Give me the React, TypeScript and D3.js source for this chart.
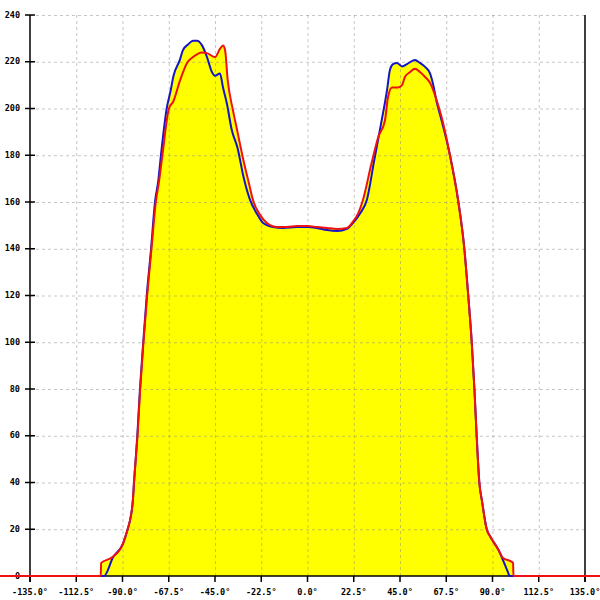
import * as d3 from "d3";

// [angle in degrees, value]
const blueCurve: [number, number][] = [
  [-100.6, 0], [-99, 0], [-94.6, 8], [-89.7, 14], [-87.5, 20], [-86.3, 24],
  [-84.9, 33], [-84.4, 40], [-82.8, 60], [-81.5, 80], [-79.9, 100], [-78.2, 120],
  [-76.1, 140], [-74.2, 160], [-72.6, 169], [-71.3, 180], [-68.5, 200], [-66.5, 208],
  [-65.3, 213.6], [-62, 221], [-60.6, 225], [-58, 227.5], [-55.7, 229], [-53.8, 229],
  [-51.3, 227], [-48.9, 222], [-46.5, 215.6], [-45, 214], [-42.6, 215], [-41.1, 209],
  [-39.2, 202], [-36.9, 191], [-34, 183], [-31.2, 171], [-28, 161], [-24.6, 155],
  [-21.6, 151], [-16.8, 149.3], [-11.9, 148.9], [-5.1, 149.3], [0, 149.3], [4.6, 148.9],
  [9.5, 148], [14.4, 147.6], [19.2, 148.5], [22.1, 151], [25.5, 155], [28.9, 161],
  [32.5, 178], [36.1, 195], [38.7, 208], [40.1, 216.5], [41.6, 219], [43.5, 219.5],
  [46, 218], [48.4, 219], [50.8, 220.3], [52.3, 220.7], [54.7, 219.5], [57.2, 217.8],
  [59.6, 215], [61.2, 210], [62.8, 203], [65.5, 194], [69.3, 180], [73.4, 160],
  [76.3, 140], [78.2, 120], [79.9, 100], [81.2, 80], [82.3, 60], [83.6, 40],
  [84.9, 32], [87.2, 20], [88.8, 17], [90.2, 15], [93, 11], [95.1, 6.8],
  [97.5, 1.7], [98.3, 0], [100.2, 0],
];

const redCurve: [number, number][] = [
  [-180, 0], [-100.6, 0], [-100.4, 5.6], [-95, 8], [-89.7, 14], [-87.5, 20],
  [-86.3, 24], [-84.9, 33], [-84.4, 40], [-82.7, 60], [-81.4, 80], [-79.8, 100],
  [-78, 120], [-75.9, 140], [-73.8, 160], [-72.2, 169], [-70.6, 180], [-67.4, 200],
  [-65.3, 203], [-62, 212], [-58.6, 219.5], [-55.7, 222], [-51.3, 224], [-48.9, 223.7],
  [-45, 222], [-42.6, 225.5], [-41.1, 227], [-40.1, 225], [-38.8, 212], [-36.2, 199],
  [-34.3, 191], [-31.2, 178], [-28.5, 168], [-26.5, 160.8], [-23.1, 154.5], [-19.7, 151],
  [-14.8, 149.3], [-10, 149.3], [-5.1, 149.7], [0, 149.7], [4.6, 149.3], [9.5, 148.9],
  [14.4, 148.5], [19.2, 148.9], [21.6, 151], [24.6, 155], [27, 161], [31, 176],
  [34.5, 188], [37.7, 195], [39.2, 205], [41.1, 209], [44, 209], [46, 210],
  [47.4, 213.5], [49.9, 215.6], [52.3, 217], [54.7, 215.6], [57.2, 213.5], [59.6, 211],
  [62.8, 203.6], [65.3, 196], [69.3, 180], [73.4, 160], [76.3, 140], [78.2, 120],
  [79.9, 100], [81.2, 80], [82.3, 60], [83.6, 40], [84.9, 32], [87.2, 20],
  [88.8, 17], [90.2, 15], [93, 11], [95.1, 7.7], [99.5, 6], [100, 5.6],
  [100.2, 0], [180, 0],
];

const xTicks = [-135, -112.5, -90, -67.5, -45, -22.5, 0, 22.5, 45, 67.5, 90, 112.5, 135];
const yTicks = [0, 20, 40, 60, 80, 100, 120, 140, 160, 180, 200, 220, 240];

const W = 600;
const H = 600;
const PLOT = { left: 30, right: 585, top: 15, bottom: 576 };
const FONT = "'DejaVu Sans Mono', monospace";

export default function App() {
  const x = d3.scaleLinear().domain([-135, 135]).range([PLOT.left, PLOT.right]);
  const y = d3.scaleLinear().domain([0, 240]).range([PLOT.bottom, PLOT.top]);

  const line = d3
    .line<[number, number]>()
    .x((d) => x(d[0]))
    .y((d) => y(d[1]))
    .curve(d3.curveMonotoneX);

  const area = d3
    .area<[number, number]>()
    .x((d) => x(d[0]))
    .y0(y(0))
    .y1((d) => y(d[1]))
    .curve(d3.curveMonotoneX);

  return (
    <svg
      width={W}
      height={H}
      style={{ position: "absolute", left: 0, top: 0, background: "#fff" }}
    >
      {/* union of both areas, filled yellow */}
      <path d={area(blueCurve) ?? ""} fill="#ffff00" />
      <path d={area(redCurve) ?? ""} fill="#ffff00" />

      {/* grid */}
      <g stroke="#808080" strokeOpacity={0.45} strokeDasharray="3,3" strokeWidth={1}>
        {yTicks.slice(1).map((t) => (
          <line key={"h" + t} x1={PLOT.left} x2={PLOT.right} y1={y(t) + 0.5} y2={y(t) + 0.5} />
        ))}
        {xTicks.slice(1, -1).map((t) => (
          <line key={"v" + t} x1={x(t) + 0.5} x2={x(t) + 0.5} y1={PLOT.top} y2={PLOT.bottom} />
        ))}
      </g>

      {/* axes */}
      <g stroke="#000" strokeWidth={1.5}>
        <line x1={PLOT.left} x2={PLOT.left} y1={PLOT.top} y2={PLOT.bottom + 6} />
        <line x1={PLOT.right} x2={PLOT.right} y1={PLOT.top} y2={PLOT.bottom + 6} />
        <line x1={PLOT.left} x2={PLOT.right} y1={PLOT.bottom} y2={PLOT.bottom} />
        {yTicks.map((t) => (
          <line key={"yt" + t} x1={PLOT.left - 5} x2={PLOT.left + 5} y1={y(t)} y2={y(t)} />
        ))}
        {xTicks.map((t) => (
          <line key={"xt" + t} x1={x(t)} x2={x(t)} y1={PLOT.bottom} y2={PLOT.bottom + 6} />
        ))}
      </g>

      {/* labels */}
      <g fontFamily={FONT} fontSize={8.5} fontWeight="bold" fill="#000">
        {yTicks.map((t) => (
          <text key={"yl" + t} x={20} y={y(t)} textAnchor="end" dominantBaseline="middle">
            {t}
          </text>
        ))}
        {xTicks.map((t) => (
          <text key={"xl" + t} x={x(t)} y={595} textAnchor="middle">
            {t.toFixed(1) + "°"}
          </text>
        ))}
      </g>

      {/* series */}
      <path d={line(blueCurve) ?? ""} fill="none" stroke="#1414c8" strokeWidth={2} />
      <path d={line(redCurve) ?? ""} fill="none" stroke="#ee1111" strokeWidth={2} />
    </svg>
  );
}
